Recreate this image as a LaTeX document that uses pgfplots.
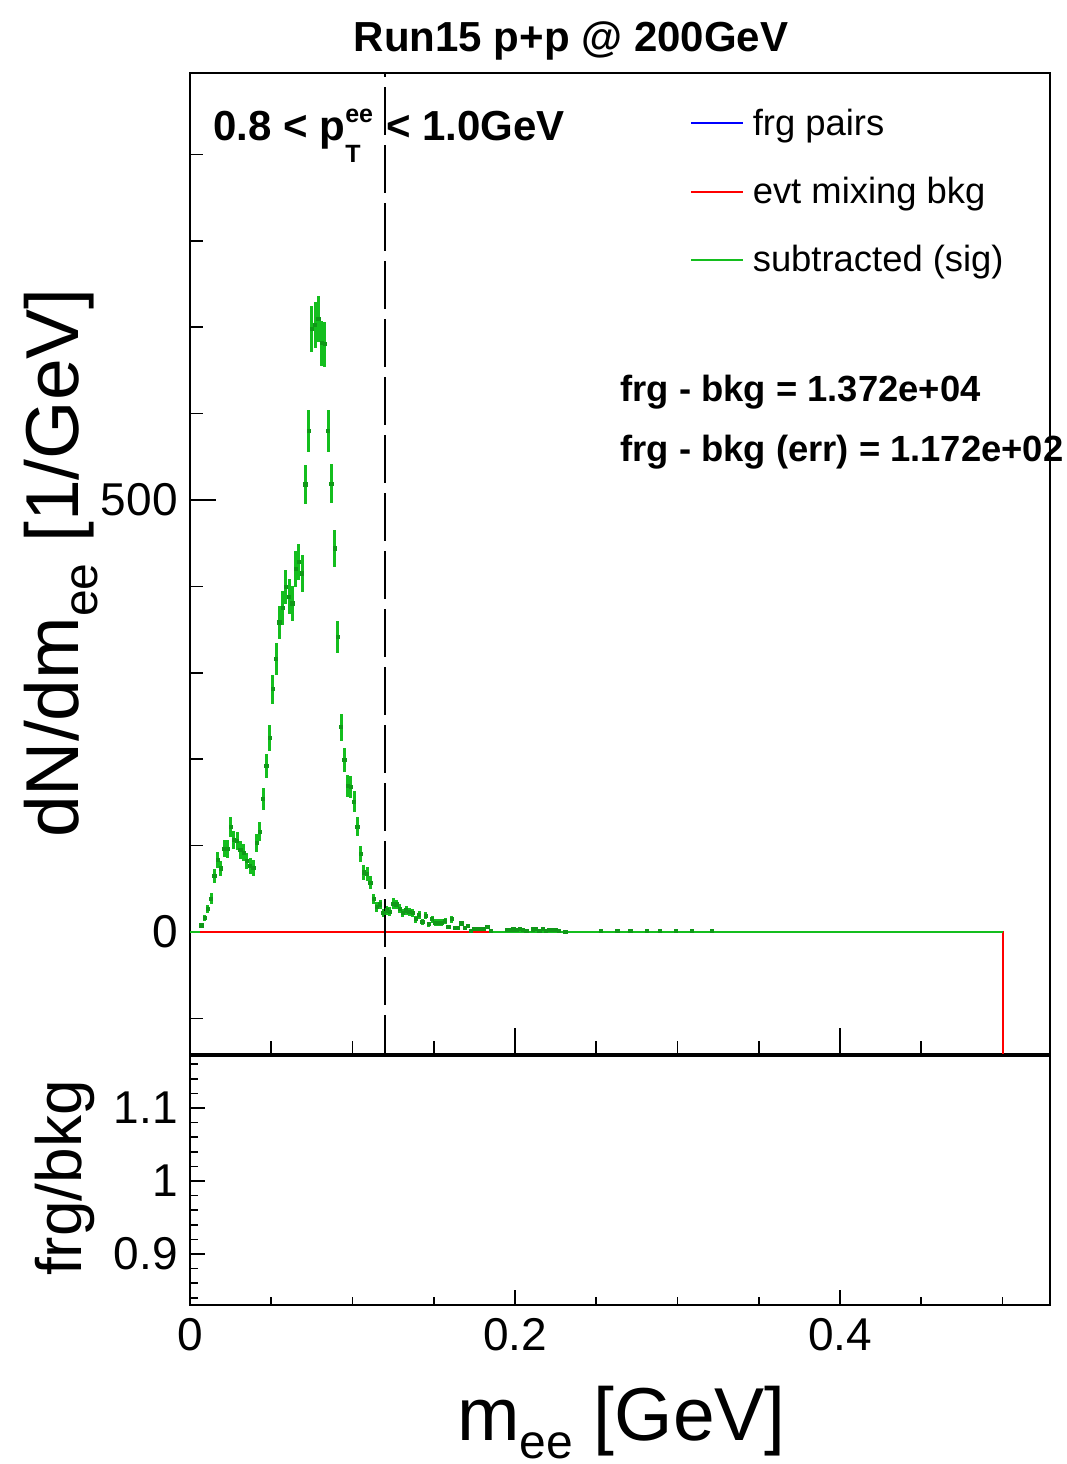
\documentclass[border=0pt]{standalone}
\usepackage{pgfplots}
\usepackage{pgfplotstable}
\pgfplotsset{compat=1.18}
\usepackage{fontspec}
\setmainfont{Liberation Sans}
\definecolor{rgreen}{RGB}{20,190,30}
\definecolor{rred}{RGB}{255,0,0}
\definecolor{rblue}{RGB}{0,0,255}

\pgfplotstableread{
x y ey
0.007 7.7 2.5
0.009 16.6 3.5
0.011 27 4.5
0.013 38.6 6
0.015 65 8
0.017 83.3 9.5
0.019 73.7 9
0.021 96.4 10
0.023 96 10
0.025 122 11.5
0.027 106.5 10.5
0.029 105.7 10.5
0.031 95 10
0.033 91.8 10
0.035 82.5 9.5
0.037 76.4 9
0.039 74.4 9
0.041 103.4 10.5
0.043 116 11
0.045 154 13
0.047 192 14
0.049 225 15
0.051 281 17
0.053 316 18
0.055 358.4 19
0.057 375.4 19.5
0.059 399.3 20
0.061 388 20
0.063 380.4 20
0.065 420 20.5
0.067 428.6 21
0.069 415 21
0.071 518 23
0.073 580 24
0.075 698 26.5
0.077 702.5 26.5
0.079 709.5 27
0.081 681.4 26
0.083 680.5 26
0.085 580 24
0.087 519 23
0.089 444 21
0.091 341.8 18.5
0.093 237 15.5
0.095 199 14
0.097 169 13
0.099 168 13
0.101 151 12.5
0.103 122 11
0.105 90 9.5
0.107 69 8.5
0.109 67 8
0.111 57 7.5
0.113 38 6
0.115 29 5.5
0.117 32 5.5
0.119 22 4.5
0.121 25 5
0.123 23.5 5
0.125 33 6
0.127 32 5.5
0.129 27 5
0.131 22 4.5
0.133 25 5
0.135 23 5
0.137 22 4.5
0.139 15 4
0.141 20 4.5
0.143 12 3.5
0.145 19 4.5
0.147 9 3
0.149 15 4
0.151 11 3.5
0.153 11 3.5
0.155 11 3.5
0.157 13 3.5
0.159 6 2.5
0.161 15 4
0.163 5 2
0.165 5 2
0.167 10 3
0.169 5 2
0.171 7 2.5
0.173 1 1
0.175 3.5 2
0.177 3.5 2
0.179 3.5 2
0.181 3.5 2
0.183 6 2.5
0.185 1 1
0.195 2 1.5
0.197 2 1.5
0.199 3 1.5
0.201 2 1.5
0.203 3.5 2
0.205 2 1.5
0.207 1 1
0.211 3 1.5
0.213 4 2
0.215 1 1
0.217 3.5 2
0.219 1 1
0.221 2.5 1.5
0.223 2.5 1.5
0.225 2.5 1.5
0.227 1 1
0.231 0.5 0.5
0.253 1.5 1
0.263 1 1
0.271 1.5 1
0.281 1 1
0.289 1 1
0.299 1.5 1
0.309 1 1
0.321 1 1
}\sigtable

\pgfplotsset{
  every tick label/.append style={font=\fontsize{23}{23}\selectfont},
  /pgf/number format/assume math mode=true,
}

\begin{document}
\begin{tikzpicture}
\useasboundingbox (0pt,0pt) rectangle (533.5pt,-732pt);

\begin{axis}[
  at={(95pt,-527pt)}, anchor=south west,
  scale only axis, width=430pt, height=490.5pt,
  xmin=0, xmax=0.5292, ymin=-141.2, ymax=994.2,
  xtick={0,0.2,0.4,0.6}, minor x tick num=3, xticklabels={},
  ytick={-500,0,500,1000}, minor y tick num=4,
  xtick pos=bottom, ytick pos=left, tick align=inside,
  major tick length=13pt, minor tick length=6.5pt,
  axis line style={line width=0.8pt},
  every tick/.style={line width=0.8pt, black},
  yticklabel style={anchor=east, inner sep=0pt, xshift=-6pt},
  legend cell align=left,
  legend style={draw=none, fill=none, at={(rel axis cs:0.5814,0.968)}, anchor=north west,
    inner sep=0pt, font=\fontsize{18.2}{18.2}\selectfont, row sep=15.5pt},
  legend image code/.code={\draw[#1, line width=1pt] (0pt,0pt) -- (26pt,0pt); \path (28.5pt,0pt);},
]
\addlegendimage{rblue}\addlegendentry{frg pairs}
\addlegendimage{rred}\addlegendentry{evt mixing bkg}
\addlegendimage{rgreen}\addlegendentry{subtracted (sig)}

\addplot[rred, line width=1pt, forget plot] coordinates {(0,0) (0.5,0) (0.5,-141.2)};
\addplot[rgreen, line width=1.2pt, forget plot] coordinates {(0,0) (0.006,0)};
\addplot[rgreen, line width=1.2pt, forget plot] coordinates {(0.186,0) (0.5,0)};
\addplot[rgreen, line width=1.4pt, only marks, mark=square*, mark size=0.8pt,
  mark options={draw=rgreen!80!black, fill=rgreen!80!black, line width=0.4pt}, forget plot,
  error bars/.cd, x dir=both, x fixed=0.001, y dir=both, y explicit, error mark=none,
  error bar style={line width=1.4pt, rgreen}]
  table[x=x, y=y, y error=ey] {\sigtable};

\draw[black, line width=0.8pt, dash pattern=on 24pt off 5pt, dash phase=22pt]
  (axis cs:0.12,994.2) -- (axis cs:0.12,-141.2);
\end{axis}

\begin{axis}[
  at={(95pt,-652.5pt)}, anchor=south west,
  scale only axis, width=430pt, height=124.5pt,
  xmin=0, xmax=0.5292, ymin=0.83, ymax=1.1712,
  xtick={0,0.2,0.4,0.6}, minor x tick num=3,
  ytick={0.8,0.9,1,1.1,1.2}, minor y tick num=4,
  xtick pos=bottom, ytick pos=left, tick align=inside,
  major tick length=7.5pt, minor tick length=4pt,
  axis line style={line width=0.8pt},
  every tick/.style={line width=0.8pt, black},
  yticklabel style={anchor=east, inner sep=0pt, xshift=-6pt},
  xticklabel style={anchor=base, inner sep=0pt, yshift=-22.5pt},
]
\addplot[draw=none] coordinates {(0,1)};
\end{axis}

\node[anchor=base, font=\bfseries\fontsize{21}{21}\selectfont, inner sep=0pt] at (285.5pt,-25.5pt) {Run15 p+p @ 200GeV};
\node[anchor=base west, font=\bfseries\fontsize{21}{21}\selectfont, inner sep=0pt] at (106.5pt,-70pt)
  {0.8 < p\rlap{\raisebox{9pt}{\fontsize{12.5}{12.5}\selectfont ee}}\raisebox{-11pt}{\fontsize{12.5}{12.5}\selectfont T}\phantom{\fontsize{12.5}{12.5}\selectfont e} < 1.0GeV};
\node[anchor=base west, font=\bfseries\fontsize{18.2}{18.2}\selectfont, inner sep=0pt] at (310pt,-200.5pt) {frg - bkg = 1.372e+04};
\node[anchor=base west, font=\bfseries\fontsize{18.2}{18.2}\selectfont, inner sep=0pt] at (310pt,-230.5pt) {frg - bkg (err) = 1.172e+02};
\node[rotate=90, anchor=base, font=\fontsize{37.5}{37.5}\selectfont, inner sep=0pt] at (39pt,-281.5pt)
  {dN/dm\raisebox{-9.5pt}{\fontsize{24}{24}\selectfont ee} [1/GeV]};
\node[rotate=90, anchor=base, font=\fontsize{32}{32}\selectfont, inner sep=0pt] at (41pt,-589pt) {frg/bkg};
\node[anchor=base, font=\fontsize{37.5}{37.5}\selectfont, inner sep=0pt] at (310.75pt,-720pt)
  {m\raisebox{-9pt}{\fontsize{24}{24}\selectfont ee} [GeV]};
\end{tikzpicture}
\end{document}
